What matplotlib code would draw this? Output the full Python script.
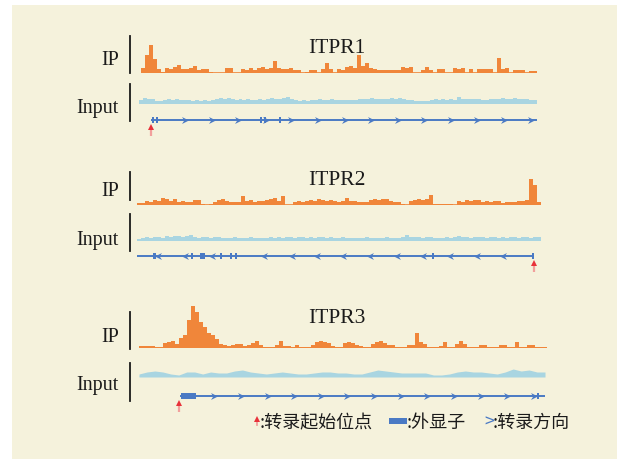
import numpy as np
import matplotlib
matplotlib.use("Agg")
import matplotlib.pyplot as plt
from matplotlib.path import Path
from matplotlib.patches import Rectangle

# ---------------- data ----------------
genes = ["ITPR1", "ITPR2", "ITPR3"]
track_labels = ["IP", "Input"]
legend_labels = [":转录起始位点", ":外显子", ":转录方向"]

ip_itpr1 = [5, 18, 28, 14, 4, 1, 5, 4, 6, 8,
            4, 4, 5, 7, 3, 4, 4, 1, 0.5, 0.5,
            0.5, 5, 5, 0.5, 0.5, 4, 3, 5, 3, 5,
            6, 4, 5, 12, 5, 4, 4, 5, 3, 3,
            0.5, 1, 3, 3, 0.5, 4, 10, 4, 0.5, 4,
            3, 6, 7, 5, 18, 7, 10, 5, 4, 3,
            3, 3, 3, 3, 3, 6, 5, 6, 0.5, 0.5,
            3, 6, 3, 0.5, 4, 4, 0.5, 0.5, 5, 4,
            5, 0.5, 4, 0.5, 4, 4, 4, 4, 0.5, 15,
            4, 5, 0.5, 3, 3, 3, 0.5, 2, 2]
input_itpr1 = [4, 6, 5, 5, 3, 3, 4, 5, 4, 5,
               4, 4, 4, 3, 4, 3, 4, 3, 4, 5,
               6, 5, 6, 5, 4, 5, 4, 5, 4, 4,
               5, 4, 5, 6, 5, 5, 6, 7, 5, 4,
               3, 4, 3, 4, 4, 5, 4, 4, 5, 4,
               4, 4, 4, 4, 4, 5, 5, 5, 6, 5,
               5, 5, 5, 6, 5, 6, 5, 4, 4, 3,
               3, 3, 3, 4, 5, 4, 5, 4, 5, 4,
               7, 5, 5, 5, 5, 5, 4, 4, 5, 5,
               5, 6, 5, 5, 6, 5, 5, 5, 4, 4]

ip_itpr2 = [2, 2, 4, 3, 5, 4, 7, 6, 4, 6,
            3, 4, 3, 3, 5, 5, 1, 0.5, 1.5, 3,
            5, 6, 4, 3, 3, 3, 9, 4, 5, 3,
            4, 4, 5, 6, 7, 4, 9, 0.5, 0.5, 3,
            4, 3, 4, 5, 4, 6, 5, 4, 5, 4,
            3, 4, 7, 4, 4, 3, 3, 3, 5, 6,
            5, 6, 6, 4, 3, 3, 1, 0.5, 4, 5,
            6, 5, 6, 10, 1, 1, 1, 1, 1, 0.5,
            4, 3, 5, 4, 5, 5, 3, 4, 3, 4,
            4, 2, 3, 3, 3, 4, 4, 5, 26, 20,
            3]
input_itpr2 = [2, 3, 4, 3, 4, 4, 3, 5, 4, 5,
               5, 4, 5, 6, 4, 3, 4, 4, 3, 4,
               4, 3, 3, 3, 4, 3, 3, 3, 4, 3,
               3, 3, 3, 4, 3, 4, 3, 4, 4, 3,
               4, 4, 3, 4, 3, 4, 4, 3, 4, 3,
               3, 4, 3, 3, 3, 3, 3, 4, 3, 3,
               3, 3, 4, 3, 3, 3, 4, 6, 4, 4,
               4, 3, 4, 4, 3, 3, 3, 4, 3, 4,
               5, 4, 4, 3, 4, 4, 4, 3, 4, 4,
               3, 4, 3, 4, 4, 3, 4, 4, 3, 4,
               4]

ip_itpr3 = [1.5, 1.5, 1.5, 2, 1, 0.5, 5, 6, 7, 4,
            10, 13, 28, 42, 36, 26, 21, 15, 13, 9,
            4, 3, 2, 3, 4, 4, 2, 3, 5, 7,
            3, 0.5, 0.5, 0.5, 3, 7, 2, 2, 0.5, 3,
            0.5, 0.5, 0.5, 3, 6, 7, 6, 5, 2, 0.5,
            0.5, 5, 6, 5, 3, 2, 0.5, 0.5, 4, 6,
            7, 5, 3, 3, 0.5, 0.5, 0.5, 3, 3, 15,
            6, 4, 0.5, 0.5, 0.5, 2, 6, 0.5, 0.5, 4,
            7, 4, 0.5, 0.5, 0.5, 3, 3, 0.5, 0.5, 0.5,
            3, 3, 0.5, 0.5, 6, 0.5, 0.5, 3, 3, 0.5,
            0.5, 0.5]
input_itpr3 = [3, 5, 6, 5, 3, 2, 5, 5, 3, 5,
               4, 4, 6, 7, 5, 4, 3, 4, 5, 4,
               3, 3, 4, 5, 5, 4, 4, 3, 3, 5,
               7, 6, 5, 4, 4, 4, 4, 2, 2, 3,
               5, 6, 5, 5, 4, 3, 5, 8, 6, 7,
               5, 5]

ip_tracks = [ip_itpr1, ip_itpr2, ip_itpr3]
input_tracks = [input_itpr1, input_itpr2, input_itpr3]

# gene models (in track bin units)
gene_span = [(2.5, 99.0), (0.0, 99.25), (10.25, 101.5)]
tss_pos = [2.5, 99.25, 10.0]
strand = ["+", "-", "+"]
exon_centers = [[2.9, 4.1, 30.0, 30.9, 34.75],
                [4.25, 13.7, 16.4, 21.0, 23.5, 24.75, 74.0, 99.0],
                [12.4, 99.75]]
exon_widths = [[0.5, 0.5, 0.5, 0.5, 0.5],
                [0.75, 0.5, 1.25, 0.5, 0.5, 0.5, 0.5, 0.5],
                [3.75, 0.5]]
chevrons = [[11, 17.65, 24.25, 31.25, 37.5, 44.25, 51, 57.5, 64.25, 70.75, 77.5, 84, 90.75, 97.5],
            [5.25, 12, 18.75, 31.75, 38.75, 45, 51.5, 58.25, 65, 71.5, 78.25, 85, 91.5],
            [18.75, 25.5, 32.25, 38.75, 45.5, 52, 58.75, 65.5, 72, 78.75, 85.5, 92, 98.75]]

# ---------------- layout (pixels) ----------------
W, H = 617, 460
BG = "#F5F2DC"
ORANGE = "#F0863A"
LIGHTBLUE = "#A9D5E1"
BLUE = "#4A7AC4"
RED = "#E8323A"
PINK = "#F2A09C"

panels = [
    dict(title_y=53, ip=(141, 537, 74), ipbar=(37, 74), ip_lab=65,
         inp=(139, 537, 105), inbar=(85, 122), in_lab=113, gene_y=121),
    dict(title_y=185, ip=(137, 541, 206), ipbar=(173, 201), ip_lab=196,
         inp=(137, 541, 242), inbar=(215, 252), in_lab=245, gene_y=257),
    dict(title_y=323, ip=(139, 547, 349), ipbar=(313, 350), ip_lab=342,
         inp=(139, 545, 378), inbar=(364, 402), in_lab=390, gene_y=397),
]

fig = plt.figure(figsize=(W / 100, H / 100), dpi=100)
fig.patch.set_facecolor("white")


def px_axes(x0, x1, y0, y1):
    ax = fig.add_axes([x0 / W, 1 - y1 / H, (x1 - x0) / W, (y1 - y0) / H])
    ax.set_axis_off()
    ax.patch.set_alpha(0)
    return ax


base = px_axes(0, W, 0, H)
base.set_xlim(0, W)
base.set_ylim(H, 0)
base.add_patch(Rectangle((12, 6), W - 12, H - 6, color=BG, lw=0, zorder=0))

serif = "Liberation Serif"
cjk = ["Noto Sans CJK SC", "DejaVu Sans"]

chev_r = Path([(-1, 1), (1, 0), (-1, -1), (-0.35, 0), (-1, 1)],
              [Path.MOVETO, Path.LINETO, Path.LINETO, Path.LINETO, Path.CLOSEPOLY])
chev_l = Path([(1, 1), (-1, 0), (1, -1), (0.35, 0), (1, 1)],
              [Path.MOVETO, Path.LINETO, Path.LINETO, Path.LINETO, Path.CLOSEPOLY])

for k, p in enumerate(panels):
    # title and labels
    base.text(337, p["title_y"], genes[k], ha="center", va="baseline",
              fontfamily=serif, fontsize=15.5, color="#1a1a1a")
    base.text(119, p["ip_lab"], track_labels[0], ha="right", va="baseline",
              fontfamily=serif, fontsize=14.5, color="#1a1a1a")
    base.text(119, p["in_lab"], track_labels[1], ha="right", va="baseline",
              fontfamily=serif, fontsize=14.5, color="#1a1a1a")
    base.plot([129.5, 129.5], p["ipbar"], color="#1a1a1a", lw=1.3)
    base.plot([129.5, 129.5], p["inbar"], color="#1a1a1a", lw=1.3)

    # IP track
    x0, x1, yb = p["ip"]
    ax = px_axes(x0, x1, yb - 46, yb)
    vals = np.array(ip_tracks[k], dtype=float)
    n = len(vals)
    xs = np.arange(n + 1)
    ax.fill_between(xs, np.append(vals, vals[-1]), step="post", color=ORANGE, lw=0)
    ax.axhline(0, color=ORANGE, lw=1.2)
    ax.set_xlim(0, n)
    ax.set_ylim(0, 46)

    # Input track
    x0i, x1i, ybi = p["inp"]
    axi = px_axes(x0i, x1i, ybi - 12, ybi)
    iv = np.array(input_tracks[k], dtype=float)
    m = len(iv)
    if k == 2:
        axi.fill_between(np.arange(m), iv, color=LIGHTBLUE, lw=0)
        axi.set_xlim(0, m - 1)
    else:
        axi.fill_between(np.arange(m + 1), np.append(iv, iv[-1]), step="post",
                         color=LIGHTBLUE, lw=0)
        axi.set_xlim(0, m)
    axi.axhline(0.3, color=LIGHTBLUE, lw=1.0)
    axi.set_ylim(0, 12)

    # gene model
    gy = p["gene_y"]
    axg = px_axes(x0, x1, gy - 8, gy + 18)
    axg.set_xlim(0, n)
    axg.set_ylim(18, -8)
    s, e = gene_span[k]
    axg.plot([s, e], [0, 0], color=BLUE, lw=1.4, solid_capstyle="butt")
    for c, w in zip(exon_centers[k], exon_widths[k]):
        axg.add_patch(Rectangle((c - w / 2, -3.3), w, 6.6, color=BLUE, lw=0))
    axg.plot(chevrons[k], np.zeros(len(chevrons[k])), ls="none",
             marker=chev_r if strand[k] == "+" else chev_l, ms=5, color=BLUE, mew=0)
    t = tss_pos[k]
    axg.plot([t, t], [7, 16], color=PINK, lw=1.6, solid_capstyle="butt")
    axg.plot([t], [6.5], marker="^", ms=5, color=RED, mew=0)

# legend
base.plot([257, 257], [420, 426], color=PINK, lw=1.3)
base.plot([257], [419.5], marker="^", ms=4, color=RED, mew=0)
base.text(260, 423, legend_labels[0], ha="left", va="center", family=cjk,
          fontsize=13, color="#1a1a1a")
base.add_patch(Rectangle((389, 419), 18, 6, color=BLUE, lw=0))
base.text(407, 423, legend_labels[1], ha="left", va="center", family=cjk,
          fontsize=13, color="#1a1a1a")
base.text(484, 423, ">", ha="left", va="center", family=cjk,
          fontsize=13, color=BLUE)
base.text(493, 423, legend_labels[2], ha="left", va="center", family=cjk,
          fontsize=13, color="#1a1a1a")

fig.savefig("out.png", dpi=100, facecolor=fig.get_facecolor())
